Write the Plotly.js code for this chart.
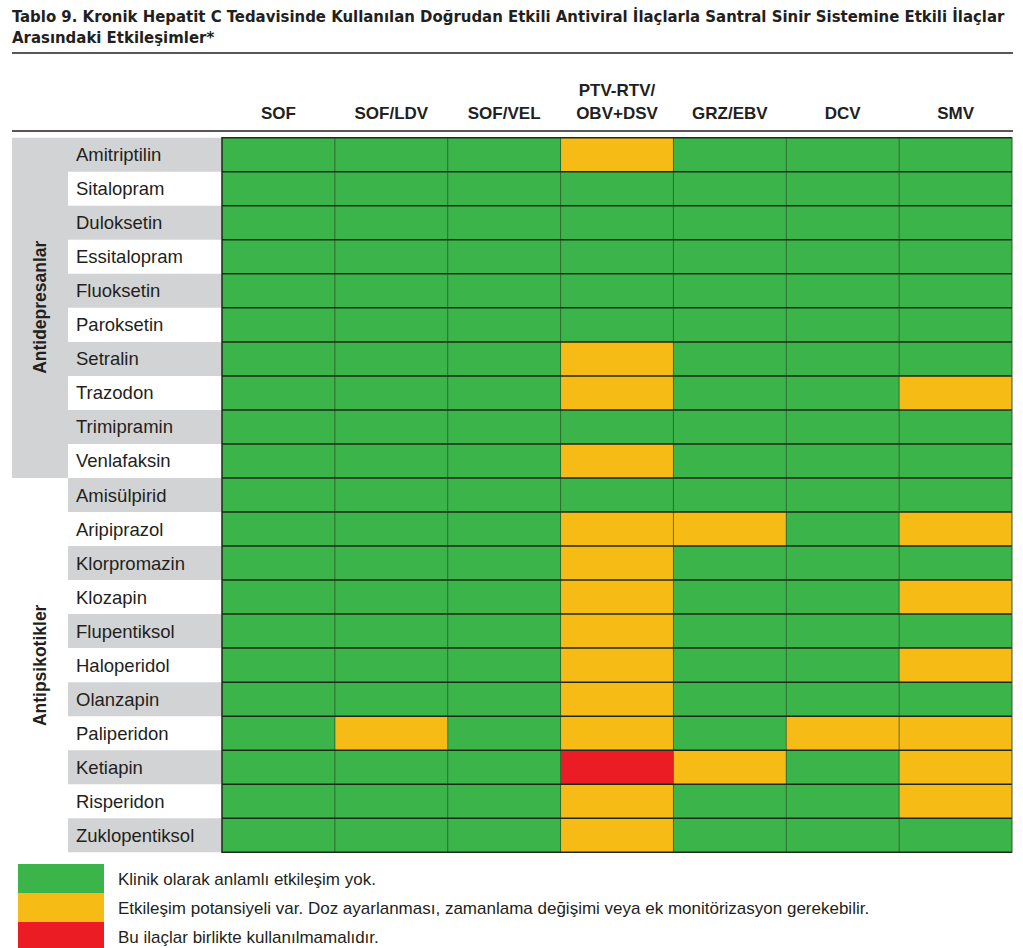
<!DOCTYPE html>
<html>
<head>
<meta charset="utf-8">
<script src="https://cdn.plot.ly/plotly-3.0.1.min.js"></script>
<style>html,body{margin:0;padding:0;background:#fff;}#chart{width:1023px;height:948px;}</style>
</head>
<body>
<div id="chart"></div>
<script>
// ---- data ----
const titleLine1 = 'Tablo 9. Kronik Hepatit C Tedavisinde Kullanılan Doğrudan Etkili Antiviral İlaçlarla Santral Sinir Sistemine Etkili İlaçlar';
const titleLine2 = 'Arasındaki Etkileşimler*';
const columns = ['SOF', 'SOF/LDV', 'SOF/VEL', 'PTV-RTV/<br>OBV+DSV', 'GRZ/EBV', 'DCV', 'SMV'];
const drugs = ['Amitriptilin', 'Sitalopram', 'Duloksetin', 'Essitalopram', 'Fluoksetin', 'Paroksetin', 'Setralin', 'Trazodon', 'Trimipramin', 'Venlafaksin',
  'Amisülpirid', 'Aripiprazol', 'Klorpromazin', 'Klozapin', 'Flupentiksol', 'Haloperidol', 'Olanzapin', 'Paliperidon', 'Ketiapin', 'Risperidon', 'Zuklopentiksol'];
const groupNames = ['Antidepresanlar', 'Antipsikotikler'];
const groupSizes = [10, 11];
// 0 = no interaction, 1 = potential interaction, 2 = do not co-administer
const SOF    = [0,0,0,0,0,0,0,0,0,0, 0,0,0,0,0,0,0,0,0,0,0];
const SOF_LDV= [0,0,0,0,0,0,0,0,0,0, 0,0,0,0,0,0,0,1,0,0,0];
const SOF_VEL= [0,0,0,0,0,0,0,0,0,0, 0,0,0,0,0,0,0,0,0,0,0];
const PTV    = [1,0,0,0,0,0,1,1,0,1, 0,1,1,1,1,1,1,1,2,1,1];
const GRZ_EBV= [0,0,0,0,0,0,0,0,0,0, 0,1,0,0,0,0,0,0,1,0,0];
const DCV    = [0,0,0,0,0,0,0,0,0,0, 0,0,0,0,0,0,0,1,0,0,0];
const SMV    = [0,0,0,0,0,0,0,1,0,0, 0,1,0,1,0,1,0,1,1,1,0];
const legendLabels = ['Klinik olarak anlamlı etkileşim yok.',
  'Etkileşim potansiyeli var. Doz ayarlanması, zamanlama değişimi veya ek monitörizasyon gerekebilir.',
  'Bu ilaçlar birlikte kullanılmamalıdır.'];

// ---- styles ----
const COLORS = ['#3bb44a', '#f6bc15', '#ec1c24'];
const GRAY = '#d1d3d4';
const INK = '#231f20';
const FONT = 'Liberation Sans, Arial, Helvetica, sans-serif';
const TFONT = 'DejaVu Sans Condensed, Liberation Sans Narrow, Liberation Sans, sans-serif';
const W = 1023, H = 948;
const px = x => x / W;
const py = y => 1 - y / H;

const series = [SOF, SOF_LDV, SOF_VEL, PTV, GRZ_EBV, DCV, SMV];
const z = drugs.map((d, i) => series.map(s => s[i]));

const trace = {
  type: 'heatmap',
  x: columns.map(c => '<b>' + c + '</b>'), y: drugs, z: z,
  zmin: 0, zmax: 2,
  colorscale: [[0, COLORS[0]], [0.3333, COLORS[0]], [0.3333, COLORS[1]], [0.6667, COLORS[1]], [0.6667, COLORS[2]], [1, COLORS[2]]],
  showscale: false, hoverinfo: 'skip'
};

const shapes = [];
const annotations = [];
// title
annotations.push({xref: 'paper', yref: 'paper', x: px(10), y: py(17), text: '<b>' + titleLine1 + '</b>', showarrow: false, xanchor: 'left', yanchor: 'middle',
  font: {family: TFONT, size: 16.6, color: INK}});
annotations.push({xref: 'paper', yref: 'paper', x: px(10), y: py(38), text: '<b>' + titleLine2 + '</b>', showarrow: false, xanchor: 'left', yanchor: 'middle',
  font: {family: TFONT, size: 16.6, color: INK}});
// title rules
shapes.push({type: 'line', xref: 'paper', yref: 'paper', x0: px(12), x1: px(1013), y0: py(53), y1: py(53), line: {color: INK, width: 1.3}});
shapes.push({type: 'line', xref: 'paper', yref: 'paper', x0: px(12), x1: px(1013), y0: py(131), y1: py(131), line: {color: INK, width: 1.5}});

// group label backgrounds & labels
let start = 0;
groupNames.forEach((g, gi) => {
  const end = start + groupSizes[gi];
  if (gi === 0) {
    shapes.push({type: 'rect', xref: 'paper', yref: 'y', x0: px(12), x1: px(68), y0: start - 0.5, y1: end - 0.5, fillcolor: GRAY, line: {width: 0}, layer: 'below'});
  }
  annotations.push({xref: 'paper', yref: 'y', x: px(40), y: (start + end - 1) / 2, text: '<b>' + g + '</b>', textangle: -90,
    showarrow: false, font: {family: FONT, size: 17.5, color: INK}, xanchor: 'center', yanchor: 'middle'});
  start = end;
});

// row label backgrounds & labels
drugs.forEach((d, i) => {
  if (i % 2 === 0) {
    shapes.push({type: 'rect', xref: 'paper', yref: 'y', x0: px(68), x1: px(222), y0: i - 0.5, y1: i + 0.5, fillcolor: GRAY, line: {width: 0}, layer: 'below'});
  }
  annotations.push({xref: 'paper', yref: 'y', x: px(74), y: i, text: d, showarrow: false, xanchor: 'left', yanchor: 'middle',
    font: {family: FONT, size: 18.5, color: INK}});
});

// grid lines
for (let j = 0; j < columns.length - 1; j++) {
  shapes.push({type: 'line', xref: 'x', yref: 'paper', x0: j + 0.5, x1: j + 0.5, y0: py(853), y1: py(137), line: {color: 'rgba(45,80,45,0.75)', width: 1}});
}
for (let i = 0; i <= drugs.length; i++) {
  shapes.push({type: 'line', xref: 'paper', yref: 'y', x0: px(222), x1: px(1012), y0: i - 0.5, y1: i - 0.5, line: {color: '#1c2a1c', width: 1.5}});
}
shapes.push({type: 'line', xref: 'paper', yref: 'paper', x0: px(222), x1: px(222), y0: py(853), y1: py(137), line: {color: '#1c2a1c', width: 1.5}});
shapes.push({type: 'line', xref: 'paper', yref: 'paper', x0: px(1012), x1: px(1012), y0: py(853), y1: py(137), line: {color: 'rgba(45,80,45,0.8)', width: 1.2}});

// legend
const legTop = [864, 893, 922];
legendLabels.forEach((t, k) => {
  shapes.push({type: 'rect', xref: 'paper', yref: 'paper', x0: px(18), x1: px(104), y0: py(legTop[k]), y1: py(legTop[k] + 29), fillcolor: COLORS[k], line: {width: 0}});
  annotations.push({xref: 'paper', yref: 'paper', x: px(116), y: py(legTop[k] + 15), text: t, showarrow: false, xanchor: 'left', yanchor: 'middle',
    font: {family: FONT, size: 17, color: INK}});
});

const layout = {
  width: W, height: H,
  margin: {l: 0, r: 0, t: 0, b: 0},
  paper_bgcolor: '#fff', plot_bgcolor: '#fff',
  showlegend: false,
  xaxis: {domain: [px(222), px(1012)], side: 'top', type: 'category', showgrid: false, zeroline: false, showline: false,
    ticks: '', ticklabelstandoff: 14, tickfont: {family: FONT, size: 17, color: INK}, fixedrange: true},
  yaxis: {domain: [py(853), py(137)], type: 'category', autorange: 'reversed', showgrid: false, zeroline: false, showline: false,
    showticklabels: false, ticks: '', fixedrange: true},
  shapes: shapes,
  annotations: annotations
};

Plotly.newPlot('chart', [trace], layout, {displayModeBar: false, staticPlot: true});
</script>
</body>
</html>
